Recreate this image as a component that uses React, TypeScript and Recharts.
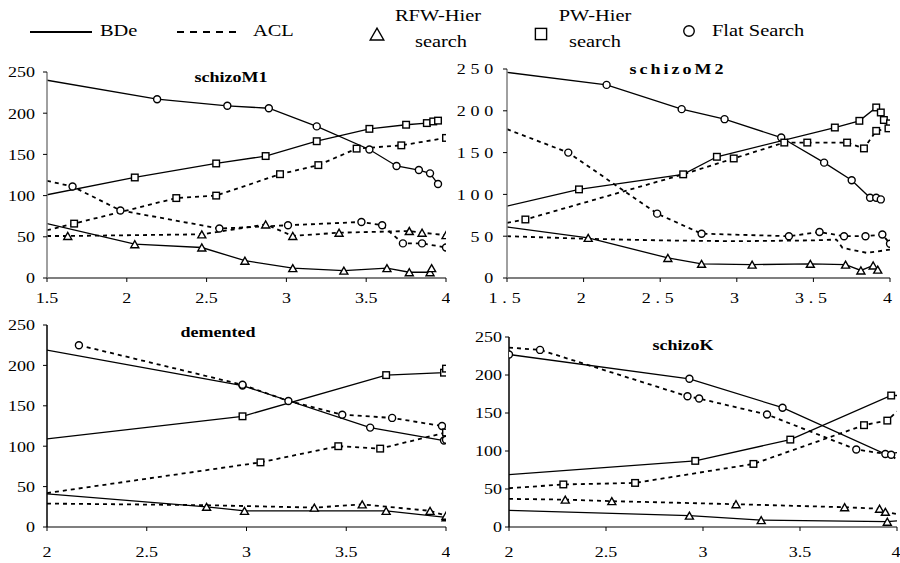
import { LineChart, Line, XAxis, YAxis } from 'recharts';

// [x, y, marker shown (1) or not (0)]
type Pt = [number, number, number];

const FONT = 'Liberation Serif';

const xTicksTop = [1.5, 2, 2.5, 3, 3.5, 4];
const xTicksBottom = [2, 2.5, 3, 3.5, 4];
const yTicks = [0, 50, 100, 150, 200, 250];

// schizoM1
const m1BdeFlat: Pt[] = [[1.5, 240, 0], [2.19, 217, 1], [2.63, 209, 1], [2.89, 206, 1], [3.19, 184, 1], [3.52, 156, 1], [3.69, 136, 1], [3.83, 131, 1], [3.9, 127, 1], [3.95, 114, 1]];
const m1BdePw: Pt[] = [[1.5, 101, 0], [2.05, 122, 1], [2.56, 139, 1], [2.87, 148, 1], [3.19, 166, 1], [3.52, 181, 1], [3.75, 186, 1], [3.88, 188, 1], [3.92, 190, 1], [3.95, 191, 1]];
const m1BdeRfw: Pt[] = [[1.5, 66, 0], [2.05, 41, 1], [2.47, 37, 1], [2.74, 21, 1], [3.04, 12, 1], [3.36, 9, 1], [3.63, 12, 1], [3.77, 7, 1], [3.9, 7, 1], [3.91, 12, 1]];
const m1AclFlat: Pt[] = [[1.5, 118, 0], [1.66, 111, 1], [1.96, 82, 1], [2.58, 60, 1], [3.01, 64, 1], [3.47, 68, 1], [3.6, 64, 1], [3.73, 42, 1], [3.85, 42, 1], [4.0, 37, 1]];
const m1AclPw: Pt[] = [[1.5, 58, 0], [1.67, 66, 1], [2.31, 97, 1], [2.56, 100, 1], [2.96, 126, 1], [3.2, 137, 1], [3.44, 157, 1], [3.72, 161, 1], [4.0, 170, 1]];
const m1AclRfw: Pt[] = [[1.5, 51, 0], [1.63, 51, 1], [2.47, 53, 1], [2.87, 65, 1], [3.04, 51, 1], [3.33, 55, 1], [3.77, 57, 1], [3.85, 55, 1], [4.0, 52, 1]];

// schizoM2
const m2BdeFlat: Pt[] = [[1.5, 246, 0], [2.15, 231, 1], [2.64, 202, 1], [2.92, 190, 1], [3.29, 168, 1], [3.57, 138, 1], [3.75, 117, 1], [3.87, 96, 1], [3.91, 96, 1], [3.94, 94, 1]];
const m2BdePw: Pt[] = [[1.5, 86, 0], [1.97, 106, 1], [2.65, 124, 1], [2.87, 145, 1], [3.64, 180, 1], [3.8, 188, 1], [3.91, 204, 1], [3.94, 198, 1], [3.96, 189, 1], [4.0, 185, 1]];
const m2BdeRfw: Pt[] = [[1.5, 61, 0], [2.03, 48, 1], [2.55, 24, 1], [2.77, 17, 1], [3.1, 16, 1], [3.48, 17, 1], [3.71, 16, 1], [3.81, 9, 1], [3.89, 15, 1], [3.92, 10, 1]];
const m2AclFlat: Pt[] = [[1.5, 178, 0], [1.9, 150, 1], [2.48, 77, 1], [2.77, 53, 1], [3.34, 50, 1], [3.54, 55, 1], [3.7, 50, 1], [3.84, 50, 1], [3.95, 52, 1], [4.0, 41, 1]];
const m2AclPw: Pt[] = [[1.5, 66, 0], [1.62, 70, 1], [2.65, 124, 0], [2.98, 143, 1], [3.31, 162, 1], [3.46, 162, 1], [3.72, 162, 1], [3.83, 155, 1], [3.91, 176, 1], [3.99, 179, 1]];
const m2AclRfw: Pt[] = [[1.5, 50, 0], [2.0, 47, 0], [2.5, 45, 0], [3.0, 44, 0], [3.5, 45, 0], [3.65, 46, 0], [3.69, 36, 0], [3.85, 30, 0], [4.0, 34, 0]];

// demented
const dBdeFlat: Pt[] = [[2, 219, 0], [2.98, 175, 1], [3.62, 123, 1], [3.99, 107, 1]];
const dBdePw: Pt[] = [[2, 109, 0], [2.98, 137, 1], [3.7, 188, 1], [3.99, 191, 1], [4.0, 196, 1]];
const dBdeRfw: Pt[] = [[2, 41, 0], [2.8, 25, 1], [2.99, 20, 1], [3.7, 20, 1], [4.0, 12, 1]];
const dAclFlat: Pt[] = [[2.16, 225, 1], [2.98, 176, 1], [3.21, 156, 1], [3.48, 139, 1], [3.73, 135, 1], [3.98, 125, 1], [4.0, 108, 1]];
const dAclPw: Pt[] = [[2, 42, 0], [3.07, 80, 1], [3.46, 100, 1], [3.67, 97, 1], [4.0, 117, 1]];
const dAclRfw: Pt[] = [[2, 29, 0], [2.8, 27, 0], [3.34, 24, 1], [3.58, 28, 1], [3.92, 20, 1], [4.0, 14, 1]];

// schizoK
const kBdeFlat: Pt[] = [[2, 227, 1], [2.93, 195, 1], [3.41, 157, 1], [3.94, 96, 1], [4.0, 98, 0]];
const kBdePw: Pt[] = [[2, 69, 0], [2.96, 87, 1], [3.45, 115, 1], [3.97, 173, 1], [4.0, 173, 0]];
const kBdeRfw: Pt[] = [[2, 22, 0], [2.93, 15, 1], [3.3, 9, 1], [3.95, 7, 1], [4.0, 8, 0]];
const kAclFlat: Pt[] = [[2, 236, 0], [2.16, 233, 1], [2.92, 172, 1], [2.98, 169, 1], [3.33, 148, 1], [3.79, 102, 1], [3.97, 95, 1], [4.0, 88, 0]];
const kAclPw: Pt[] = [[2, 51, 0], [2.28, 56, 1], [2.65, 58, 1], [3.26, 83, 1], [3.83, 134, 1], [3.95, 140, 1], [4.0, 152, 0]];
const kAclRfw: Pt[] = [[2, 37, 0], [2.29, 36, 1], [2.53, 34, 1], [3.17, 30, 1], [3.73, 26, 1], [3.91, 24, 1], [3.94, 20, 1], [4.0, 17, 0]];

type Shape = 'circle' | 'square' | 'triangle';

const toRows = (pts: Pt[]) => pts.map(([x, y, m]) => ({ x, y, m }));

function Marker({ cx, cy, shape, size = 1 }: { cx: number; cy: number; shape: Shape; size?: number }) {
  if (shape === 'circle') {
    return <circle cx={cx} cy={cy} r={3.5 * size} fill="#fff" stroke="#000" strokeWidth={1.4} />;
  }
  if (shape === 'square') {
    const s = 3.3 * size;
    return <rect x={cx - s} y={cy - s} width={s * 2} height={s * 2} fill="#fff" stroke="#000" strokeWidth={1.4} />;
  }
  const w = 4 * size;
  const h = 3.5 * size;
  return <polygon points={`${cx - w},${cy + h} ${cx + w},${cy + h} ${cx},${cy - h}`} fill="#fff" stroke="#000" strokeWidth={1.4} />;
}

const dotFor = (shape: Shape) => (props: any) => {
  const { cx, cy, payload, index } = props;
  if (!payload || !payload.m || cx == null || cy == null) return <g key={`n-${index}`} />;
  return <Marker key={`d-${index}`} cx={cx} cy={cy} shape={shape} />;
};

// text in the source figure is stretched a little wider
function SText({ x, y, children, anchor = 'start', size = 17, weight = 'normal', spacing = 0, dy }: any) {
  return (
    <text transform={`translate(${x},${y}) scale(1.2,1)`} textAnchor={anchor} dy={dy}
      fontFamily={FONT} fontSize={size} fontWeight={weight} letterSpacing={spacing} fill="#000">
      {children}
    </text>
  );
}

function XTick({ x, y, payload, spacing }: any) {
  return <SText x={x} y={y} dy="0.71em" anchor="middle" size={15} spacing={spacing}>{payload.value}</SText>;
}

function YTick({ x, y, payload, spacing }: any) {
  return <SText x={x} y={y} dy="0.355em" anchor="end" size={15} spacing={spacing}>{payload.value}</SText>;
}

type Series = { pts: Pt[]; dashed: boolean; shape: Shape };

const panels = [
  {
    key: 'm1', left: 0, top: 60, width: 450, height: 250,
    margin: { top: 12, right: 4, bottom: 2, left: 0 }, yWidth: 47, xHeight: 30,
    xDomain: [1.5, 4], xTicks: xTicksTop, xMargin: 10, yMargin: 8, yColor: '#808080', spacing: 0,
    series: [
      { pts: m1BdeFlat, dashed: false, shape: 'circle' },
      { pts: m1BdePw, dashed: false, shape: 'square' },
      { pts: m1BdeRfw, dashed: false, shape: 'triangle' },
      { pts: m1AclFlat, dashed: true, shape: 'circle' },
      { pts: m1AclPw, dashed: true, shape: 'square' },
      { pts: m1AclRfw, dashed: true, shape: 'triangle' },
    ] as Series[],
  },
  {
    key: 'm2', left: 450, top: 60, width: 450, height: 250,
    margin: { top: 9, right: 10, bottom: 2, left: 0 }, yWidth: 57, xHeight: 30,
    xDomain: [1.5, 4], xTicks: xTicksTop, xMargin: 10, yMargin: 5, yColor: '#808080', spacing: 4,
    series: [
      { pts: m2BdeFlat, dashed: false, shape: 'circle' },
      { pts: m2BdePw, dashed: false, shape: 'square' },
      { pts: m2BdeRfw, dashed: false, shape: 'triangle' },
      { pts: m2AclFlat, dashed: true, shape: 'circle' },
      { pts: m2AclPw, dashed: true, shape: 'square' },
      { pts: m2AclRfw, dashed: true, shape: 'triangle' },
    ] as Series[],
  },
  {
    key: 'd', left: 0, top: 310, width: 450, height: 253,
    margin: { top: 15, right: 4, bottom: 2, left: 0 }, yWidth: 47, xHeight: 34,
    xDomain: [2, 4], xTicks: xTicksBottom, xMargin: 15, yMargin: 8, yColor: '#000', spacing: 0,
    series: [
      { pts: dBdeFlat, dashed: false, shape: 'circle' },
      { pts: dBdePw, dashed: false, shape: 'square' },
      { pts: dBdeRfw, dashed: false, shape: 'triangle' },
      { pts: dAclFlat, dashed: true, shape: 'circle' },
      { pts: dAclPw, dashed: true, shape: 'square' },
      { pts: dAclRfw, dashed: true, shape: 'triangle' },
    ] as Series[],
  },
  {
    key: 'k', left: 450, top: 310, width: 450, height: 253,
    margin: { top: 27, right: 3, bottom: 2, left: 0 }, yWidth: 59, xHeight: 34,
    xDomain: [2, 4], xTicks: xTicksBottom, xMargin: 15, yMargin: 3, yColor: '#000', spacing: 0,
    series: [
      { pts: kBdeFlat, dashed: false, shape: 'circle' },
      { pts: kBdePw, dashed: false, shape: 'square' },
      { pts: kBdeRfw, dashed: false, shape: 'triangle' },
      { pts: kAclFlat, dashed: true, shape: 'circle' },
      { pts: kAclPw, dashed: true, shape: 'square' },
      { pts: kAclRfw, dashed: true, shape: 'triangle' },
    ] as Series[],
  },
];

const titles = [
  { text: 'schizoM1', x: 231, y: 82, spacing: 0 },
  { text: 'schizoM2', x: 678, y: 74, spacing: 2.5 },
  { text: 'demented', x: 218, y: 337, spacing: 0 },
  { text: 'schizoK', x: 683, y: 350, spacing: 0 },
];

export default function App() {
  return (
    <div style={{ position: 'absolute', left: 0, top: 0, width: 900, height: 563, background: '#fff', fontFamily: FONT }}>
      {panels.map(p => (
        <div key={p.key} style={{ position: 'absolute', left: p.left, top: p.top }}>
          <LineChart width={p.width} height={p.height} margin={p.margin}>
            <XAxis type="number" dataKey="x" domain={p.xDomain} ticks={p.xTicks} allowDataOverflow
              height={p.xHeight} tickSize={4} tickMargin={p.xMargin}
              axisLine={{ stroke: '#000', strokeWidth: 1.2 }} tickLine={{ stroke: '#000' }}
              tick={(t: any) => <XTick {...t} spacing={p.spacing} />} />
            <YAxis type="number" dataKey="y" domain={[0, 250]} ticks={yTicks} allowDataOverflow
              width={p.yWidth} tickSize={4} tickMargin={p.yMargin}
              axisLine={{ stroke: p.yColor, strokeWidth: 1.5 }} tickLine={{ stroke: '#000' }}
              tick={(t: any) => <YTick {...t} spacing={p.spacing} />} />
            {p.series.map((s, i) => (
              <Line key={i} data={toRows(s.pts)} dataKey="y" type="linear" stroke="#000"
                strokeWidth={s.dashed ? 1.8 : 1.3} strokeDasharray={s.dashed ? '4 4' : undefined}
                dot={dotFor(s.shape)} activeDot={false} isAnimationActive={false} />
            ))}
          </LineChart>
        </div>
      ))}
      <svg width={900} height={563} style={{ position: 'absolute', left: 0, top: 0, pointerEvents: 'none' }}>
        <line x1={30} y1={32} x2={92} y2={32} stroke="#000" strokeWidth={2} />
        <SText x={100} y={36}>BDe</SText>
        <line x1={177} y1={32} x2={239} y2={32} stroke="#000" strokeWidth={2} strokeDasharray="7 6" />
        <SText x={253} y={36}>ACL</SText>
        <Marker cx={377} cy={34} shape="triangle" size={1.7} />
        <SText x={438} y={21} anchor="middle">RFW-Hier</SText>
        <SText x={441} y={47} anchor="middle">search</SText>
        <Marker cx={541} cy={34} shape="square" size={1.7} />
        <SText x={595} y={21} anchor="middle">PW-Hier</SText>
        <SText x={595} y={47} anchor="middle">search</SText>
        <Marker cx={689} cy={31} shape="circle" size={1.5} />
        <SText x={712} y={36}>Flat Search</SText>
        {titles.map(t => (
          <SText key={t.text} x={t.x} y={t.y} anchor="middle" size={15} weight="bold" spacing={t.spacing}>{t.text}</SText>
        ))}
      </svg>
    </div>
  );
}
